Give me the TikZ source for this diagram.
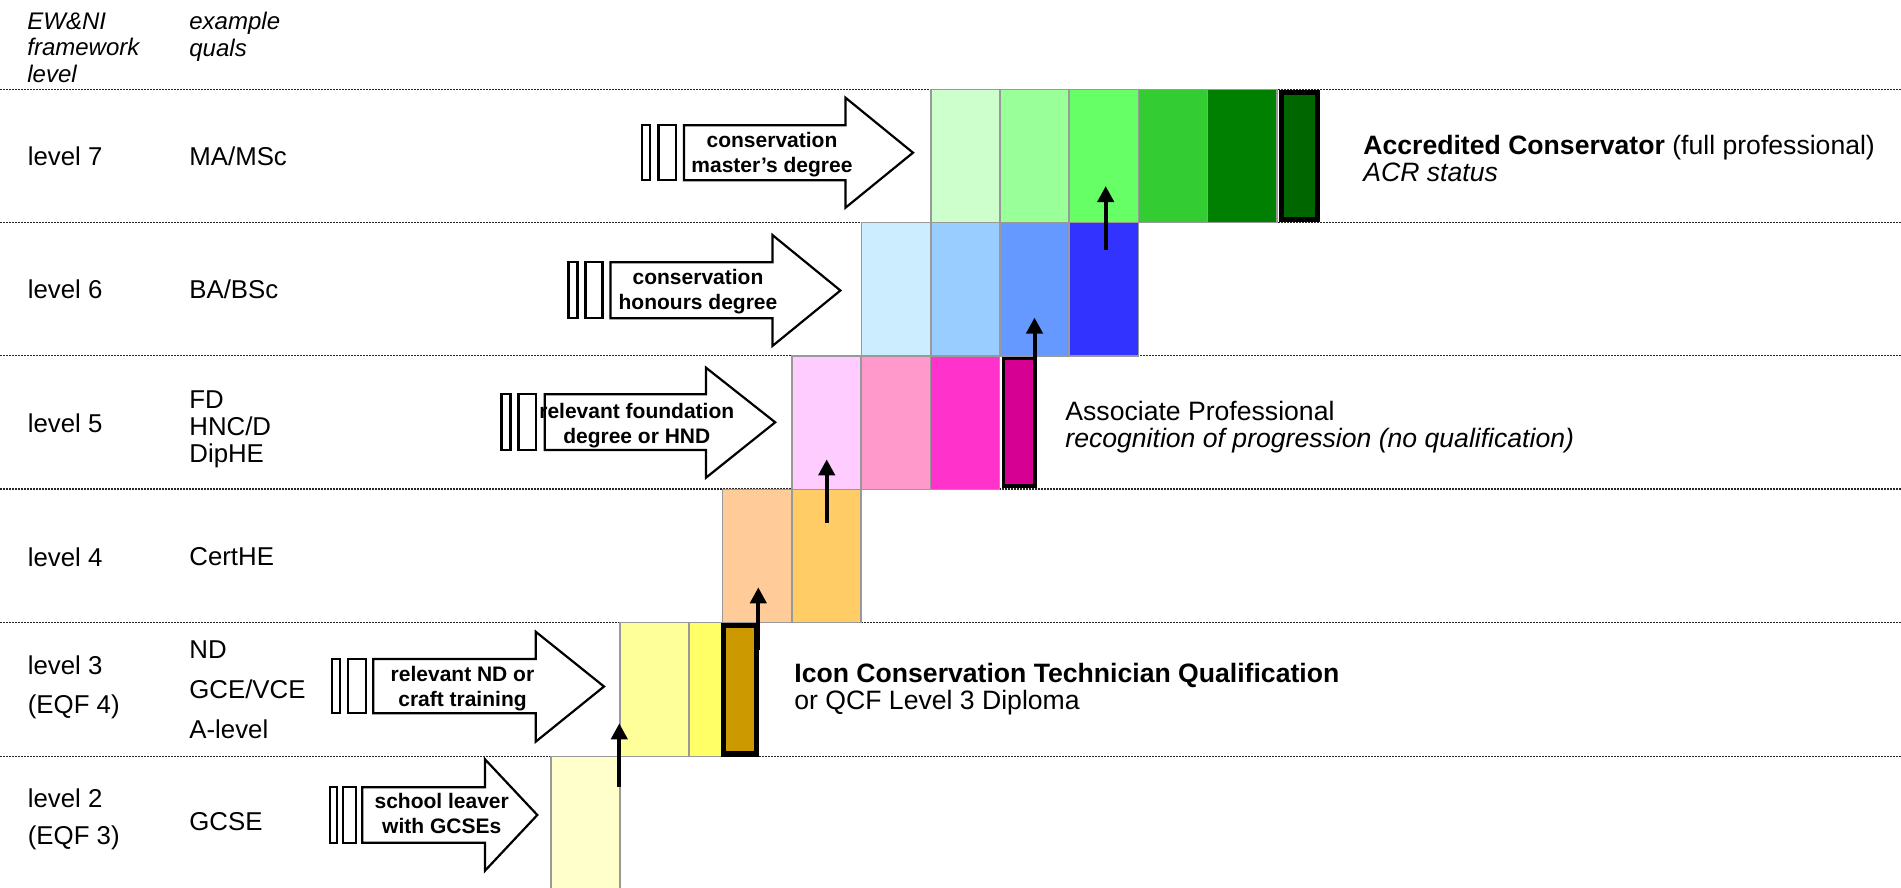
\documentclass[tikz,border=0pt]{standalone}
\usepackage{fontspec}
\setmainfont{Liberation Sans}
\usetikzlibrary{arrows.meta}

\definecolor{gA}{HTML}{CCFFCC}
\definecolor{gB}{HTML}{99FF99}
\definecolor{gC}{HTML}{66FF66}
\definecolor{gD}{HTML}{33CC33}
\definecolor{gE}{HTML}{008000}
\definecolor{gF}{HTML}{006600}
\definecolor{bA}{HTML}{CCECFF}
\definecolor{bB}{HTML}{99CCFF}
\definecolor{bC}{HTML}{6699FF}
\definecolor{bD}{HTML}{3333FF}
\definecolor{pA}{HTML}{FFCCFF}
\definecolor{pB}{HTML}{FF99CC}
\definecolor{pC}{HTML}{FF33CC}
\definecolor{pD}{HTML}{D60093}
\definecolor{oA}{HTML}{FFCC99}
\definecolor{oB}{HTML}{FFCC66}
\definecolor{yA}{HTML}{FFFF99}
\definecolor{yB}{HTML}{FFFF66}
\definecolor{yC}{HTML}{CC9900}
\definecolor{yZ}{HTML}{FFFFCC}

\tikzset{
  rowline/.style={line width=0.6pt, dash pattern=on 1pt off 0.5pt, black!85},
  cell/.style={draw=black!40, line width=0.75pt},
  keycell/.style={draw=black, line width=2.75pt},
  entry/.style={draw=black, fill=white, line width=1.1pt, line join=miter},
  lift/.style={line width=2pt, -{Triangle[length=8pt,width=8pt]}},
  headtext/.style={anchor=north west, inner sep=0pt, align=left, font=\fontsize{12}{13.25}\selectfont\itshape},
  levtext/.style={anchor=west, inner sep=0pt, align=left, font=\fontsize{12.9}{15}\selectfont},
  entrytext/.style={inner sep=0pt, align=center, font=\fontsize{10.5}{12.5}\selectfont\bfseries},
  notetext/.style={anchor=north west, inner sep=0pt, align=left, font=\fontsize{13.3}{13.5}\selectfont}
}

\begin{document}
\begin{tikzpicture}[x=0.5pt, y=-0.5pt]
  \useasboundingbox (0,0) rectangle (1901,888);
  \clip (0,0) rectangle (1901,888);

  % level lines
  \foreach \y in {89.3,222.5,355.8,489,622.5,756.3}
    \draw[rowline] (0,\y) -- (1901,\y);

  % column heads and level names
  \node[headtext] (hlevel) at (27,12.1) {EW\&NI\\framework\\level};
  \node[headtext] (hquals) at (189,12.1) {example\\quals};

  \node[levtext] (lev7) at (27.5,156) {level 7};
  \node[levtext] (qual7) at (189,156) {MA/MSc};
  \node[levtext] (lev6) at (27.5,289) {level 6};
  \node[levtext] (qual6) at (189,289) {BA/BSc};
  \node[levtext] (lev5) at (27.5,422.8) {level 5};
  \node[levtext, anchor=north west, font=\fontsize{12.9}{13.5}\selectfont] (qual5) at (189,390) {FD\\HNC/D\\DipHE};
  \node[levtext] (lev4) at (27.5,557) {level 4};
  \node[levtext] (qual4) at (189,557) {CertHE};
  \node[levtext, anchor=north west, font=\fontsize{12.9}{19.5}\selectfont] (lev3) at (27.5,655.8) {level 3\\(EQF 4)};
  \node[levtext, anchor=north west, font=\fontsize{12.9}{19.9}\selectfont] (qual3) at (189,640.8) {ND\\GCE/VCE\\A-level};
  \node[levtext, anchor=north west, font=\fontsize{12.9}{18.65}\selectfont] (lev2) at (27.5,788.2) {level 2\\(EQF 3)};
  \node[levtext] (qual2) at (189,822) {GCSE};

  % steps, level 7
  \foreach \x/\c in {930.8/gA,1000/gB,1069.2/gC,1138.4/gD,1207.6/gE}
    \draw[cell, fill=\c] (\x,89.5) rectangle ++(69.2,133.2);
  \draw[keycell, fill=gF] (1281.7,92.3) rectangle (1317.7,219.7);
  % level 6
  \foreach \x/\c in {861.6/bA,930.8/bB,1000/bC,1069.2/bD}
    \draw[cell, fill=\c] (\x,222.7) rectangle ++(69.2,133.3);
  % level 5
  \foreach \x/\c in {791.8/pA,861.2/pB,930.5/pC}
    \draw[cell, fill=\c] (\x,356) rectangle ++(69.2,133.5);
  \draw[keycell, line width=1.75pt, fill=pD] (1003.4,358.5) rectangle (1035,486);
  % level 4
  \foreach \x/\c in {722.7/oA,791.8/oB}
    \draw[cell, fill=\c] (\x,489.5) rectangle ++(69.2,133.2);
  % level 3
  \draw[cell, fill=yA] (620,622.7) rectangle (689.2,756.7);
  \draw[cell, fill=yB] (689.2,622.7) rectangle (721.7,756.7);
  \draw[keycell, fill=yC] (723.3,625.3) rectangle (756.5,754.2);
  % level 2
  \draw[cell, fill=yZ] (551,756.7) rectangle (620,900);

  % moving up a level
  \coordinate (up2s) at (619.3,786.7);  \coordinate (up2e) at (619.3,723.3);
  \coordinate (up3s) at (758.3,650);    \coordinate (up3e) at (758.3,587.3);
  \coordinate (up4s) at (826.7,522.7);  \coordinate (up4e) at (826.7,459.3);
  \coordinate (up5s) at (1034.5,381.7); \coordinate (up5e) at (1034.5,317.5);
  \coordinate (up6s) at (1105.7,250);   \coordinate (up6e) at (1105.7,186);
  \draw[lift] (up2s) -- (up2e);
  \draw[lift] (up3s) -- (up3e);
  \draw[lift] (up4s) -- (up4e);
  \draw[lift] (up5s) -- (up5e);
  \draw[lift] (up6s) -- (up6e);

  % ways in
  \draw[entry] (641.6,125.2) rectangle (650.2,180.2);
  \draw[entry] (658.4,125.2) rectangle (675.6,180.2);
  \draw[entry] (684,125.2) -- (845.5,125.2) -- (845.5,97.7) -- (913,152.7)
    -- (845.5,207.7) -- (845.5,180.2) -- (684,180.2) -- cycle;
  \node[entrytext] (in7) at (772,155) {conservation\\master’s degree};

  \draw[entry] (568.5,262.3) rectangle (577.5,318.3);
  \draw[entry] (585.5,262.3) rectangle (602.5,318.3);
  \draw[entry] (610.4,262.3) -- (772.4,262.3) -- (772.4,235) -- (840.4,290.5)
    -- (772.4,346) -- (772.4,318.3) -- (610.4,318.3) -- cycle;
  \node[entrytext] (in6) at (698,292) {conservation\\honours degree};

  \draw[entry] (501.5,394.3) rectangle (510.5,450);
  \draw[entry] (518.5,394.3) rectangle (536,450);
  \draw[entry] (544.7,394.3) -- (706,394.3) -- (706,367.7) -- (775.2,422.3)
    -- (706,477.7) -- (706,450) -- (544.7,450) -- cycle;
  \node[entrytext] (in5) at (636.8,425.5) {relevant foundation\\degree or HND};

  \draw[entry] (331.7,659) rectangle (340,713.3);
  \draw[entry] (348.3,659) rectangle (365.7,713.3);
  \draw[entry] (373.3,659) -- (535.7,659) -- (535.7,631.7) -- (604,686.5)
    -- (535.7,741.7) -- (535.7,713.3) -- (373.3,713.3) -- cycle;
  \node[entrytext] (in3) at (462.5,689) {relevant ND or\\craft training};

  \draw[entry] (330,787.3) rectangle (337,842.7);
  \draw[entry] (343.3,787.3) rectangle (356,842.7);
  \draw[entry] (362.3,787.3) -- (485,787.3) -- (485,759.3) -- (537.3,815)
    -- (485,870.7) -- (485,842.7) -- (362.3,842.7) -- cycle;
  \node[entrytext] (in2) at (441.7,813.5) {school leaver\\with GCSEs};

  % awards
  \node[notetext] (acr) at (1363,134.7) {\textbf{Accredited Conservator} (full professional)\\\textit{ACR status}};
  \node[notetext] (assoc) at (1065,400.7) {Associate Professional\\\textit{recognition of progression (no qualification)}};
  \node[notetext] (icon) at (794,662.7) {\textbf{Icon Conservation Technician Qualification}\\or QCF Level 3 Diploma};
\end{tikzpicture}
\end{document}
